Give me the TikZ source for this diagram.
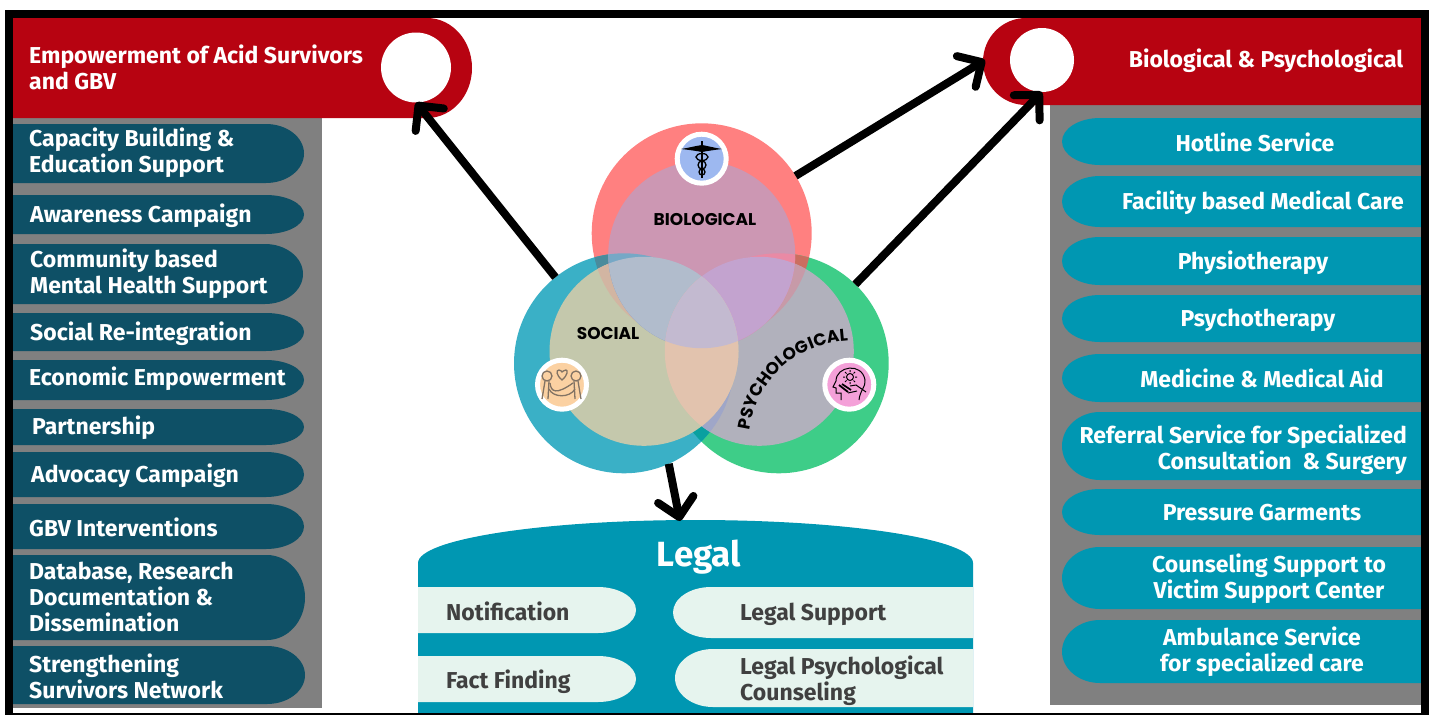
\documentclass[tikz,border=0pt]{standalone}
\usepackage{fontspec}
\setmainfont{Fira Sans}
\newfontfamily\vennfont{Poppins}
\usetikzlibrary{arrows.meta,decorations.text}
\definecolor{bandred}{HTML}{B70311}
\definecolor{paneltone}{HTML}{808080}
\definecolor{darkpill}{HTML}{0E5066}
\definecolor{lightpill}{HTML}{0097B2}
\definecolor{palepill}{HTML}{E6F4EE}
\definecolor{greytext}{HTML}{404040}
\definecolor{ringbio}{HTML}{FF8080}
\definecolor{ringpsy}{HTML}{3ECD88}
\definecolor{ringsoc}{HTML}{3AB0C6}
\definecolor{ringbiosoc}{HTML}{4A8B9C}
\definecolor{ringbiopsy}{HTML}{CB6E60}
\definecolor{ringsocpsy}{HTML}{0AA0A0}
\definecolor{inpsy}{HTML}{B1B1BC}
\definecolor{inpsysoc}{HTML}{9FA6C8}
\definecolor{inpsybio}{HTML}{C79AA8}
\definecolor{insoc}{HTML}{C4C8AC}
\definecolor{insocbio}{HTML}{D2B5A2}
\definecolor{inbio}{HTML}{CC97B3}
\definecolor{inbiopsy}{HTML}{E98AA5}
\definecolor{inbiosoc}{HTML}{76A8C6}
\definecolor{midbiosoc}{HTML}{B1BCCC}
\definecolor{midbiopsy}{HTML}{C3A3CF}
\definecolor{midsocpsy}{HTML}{E2C3AE}
\definecolor{midall}{HTML}{C3BAD0}
\definecolor{badgebio}{HTML}{9DB8F0}
\definecolor{badgesoc}{HTML}{FBD1A2}
\definecolor{badgepsy}{HTML}{F4A0D8}
\definecolor{peopleline}{HTML}{827364}
\tikzset{
  bodytext/.style={text=white,inner sep=0pt,font=\fontsize{23}{25.8}\selectfont\bfseries},
  lefttext/.style={bodytext,anchor=west,align=left},
  righttext/.style={bodytext,align=center},
  legaltext/.style={bodytext,text=greytext,anchor=west,align=left},
  venntext/.style={inner sep=0pt,font=\fontsize{17}{20}\selectfont\vennfont\bfseries},
  ring/.style={circle,inner sep=0pt,outer sep=0pt,minimum size=220},
  hole/.style={circle,fill=white,inner sep=0pt,outer sep=0pt},
  badge/.style={circle,draw=white,line width=5,inner sep=0pt,minimum size=49},
  mainarrow/.style={line width=8,-{Straight Barb[length=18pt,width=36pt,round]}},
}
% x, top, bottom of a pill
\newcommand{\leftpill}[4][darkpill]{\fill[#1] (#4-38,#2) arc[start angle=-90,end angle=90,x radius=38,y radius={(#3-#2)/2}] -- (13,#3) -- (13,#2) -- cycle;}
\newcommand{\rightpill}[4][lightpill]{\fill[#1] (#4+38,#2) arc[start angle=-90,end angle=-270,x radius=38,y radius={(#3-#2)/2}] -- (1421,#3) -- (1421,#2) -- cycle;}
\newcommand{\overlap}[3]{\begin{scope}\clip #1;\fill[#3] #2;\end{scope}}
\newcommand{\bioring}{(701.7,233.3) circle (110)}
\newcommand{\socring}{(624,363.3) circle (110)}
\newcommand{\psyring}{(778.7,363.3) circle (110)}
\newcommand{\bioin}{(701.7,254.7) circle (93.5)}
\newcommand{\socin}{(644,351.3) circle (94.5)}
\newcommand{\psyin}{(759.3,351.3) circle (94.5)}
\begin{document}
\begin{tikzpicture}[x=1pt,y=-1pt]
  \useasboundingbox (0,0) rectangle (1434,715);
  \fill[white] (0,0) rectangle (1434,715);

  % panels behind the pills
  \fill[paneltone] (13,118) rectangle (322,708);
  \fill[paneltone] (1050,105) rectangle (1421,705);

  % red bands
  \fill[bandred] (13,18) -- (427,18) arc[start angle=-90,end angle=90,x radius=45,y radius=50] -- (13,118) -- cycle;
  \node[hole,minimum size=70] (lefthole) at (416,67.5) {};
  \fill[bandred] (1026,18) arc[start angle=-90,end angle=-270,x radius=43,y radius=43.5] -- (1421,105) -- (1421,18) -- cycle;
  \node[hole,minimum size=64] (righthole) at (1042,60) {};
  \coordinate (rightband) at (985,60);
  \node[lefttext] (empowerment) at (29,67.5) {Empowerment of Acid Survivors\\and GBV};
  \node[righttext] (biopsy) at (1266,61) {Biological \& Psychological};

  % left column
  \leftpill{124}{183}{304}
  \node[lefttext] (capacity) at (29,153) {Capacity Building \&\\Education Support};
  \leftpill{195}{234}{304}
  \node[lefttext] (awareness) at (30,216) {Awareness Campaign};
  \leftpill{244}{304}{303}
  \node[lefttext] (community) at (30,274) {Community based\\Mental Health Support};
  \leftpill{313}{351}{304}
  \node[lefttext] (reintegration) at (30,334) {Social Re-integration};
  \leftpill{360}{400}{304}
  \node[lefttext] (economic) at (29,379) {Economic Empowerment};
  \leftpill{409}{445}{304}
  \node[lefttext] (partnership) at (32,428) {Partnership};
  \leftpill{452}{497}{304}
  \node[lefttext] (advocacy) at (31,476) {Advocacy Campaign};
  \leftpill{504}{549}{304}
  \node[lefttext] (gbv) at (29,527) {GBV Interventions};
  \leftpill{555}{640}{305}
  \node[lefttext] (database) at (29,597) {Database, Research\\Documentation \&\\Dissemination};
  \leftpill{646}{704}{305}
  \node[lefttext] (network) at (29,676.5) {Strengthening\\Survivors Network};

  % right column
  \rightpill{118}{165}{1062}
  \node[righttext] (hotline) at (1255,142) {Hotline Service};
  \rightpill{176}{227}{1062}
  \node[righttext] (facility) at (1263,203) {Facility based Medical Care};
  \rightpill{237}{285}{1062}
  \node[righttext] (physio) at (1253,263) {Physiotherapy};
  \rightpill{295}{342}{1062}
  \node[righttext] (psycho) at (1258,320) {Psychotherapy};
  \rightpill{354}{402}{1062}
  \node[righttext] (medicine) at (1262,378) {Medicine \& Medical Aid};
  \rightpill{412}{480}{1062}
  \node[righttext,anchor=east,align=right] (referral) at (1407,450) {Referral Service for Specialized\\Consultation\ \ \& Surgery};
  \rightpill{489}{535}{1062}
  \node[righttext] (garments) at (1262,513) {Pressure Garments};
  \rightpill{547}{609}{1062}
  \node[righttext] (counseling) at (1269,579) {Counseling Support to\\Victim Support Center};
  \rightpill{620}{683}{1062}
  \node[righttext] (ambulance) at (1262,652) {Ambulance Service\\for specialized care};

  % legal block
  \fill[lightpill] (418,563) arc[start angle=180,end angle=360,x radius=277.5,y radius=43] -- (973,713) -- (418,713) -- cycle;
  \coordinate (legaltop) at (680,521);
  \node[bodytext,font=\fontsize{35}{40}\selectfont\bfseries] (legal) at (699,557) {Legal};
  \fill[palepill] (598,587) arc[start angle=-90,end angle=90,x radius=38,y radius=23] -- (418,633) -- (418,587) -- cycle;
  \fill[palepill] (598,656) arc[start angle=-90,end angle=90,x radius=38,y radius=23] -- (418,702) -- (418,656) -- cycle;
  \fill[palepill] (711,587) arc[start angle=-90,end angle=-270,x radius=38,y radius=25.5] -- (973,638) -- (973,587) -- cycle;
  \fill[palepill] (713,649) arc[start angle=-90,end angle=-270,x radius=38,y radius=29] -- (973,707) -- (973,649) -- cycle;
  \node[legaltext] (notification) at (446,611) {Notification};
  \node[legaltext] (factfinding) at (446,682) {Fact Finding};
  \node[legaltext] (legalsupport) at (740,614) {Legal Support};
  \node[legaltext] (legalcounsel) at (740,681) {Legal Psychological\\Counseling};

  % venn
  \node[ring,fill=ringbio] (bioringn) at (701.7,233.3) {};
  \node[ring,fill=ringpsy] (psyringn) at (778.7,363.3) {};
  \node[ring,fill=ringsoc] (socringn) at (624,363.3) {};
  \overlap{\bioring}{\socring}{ringbiosoc}
  \overlap{\bioring}{\psyring}{ringbiopsy}
  \overlap{\socring}{\psyring}{ringsocpsy}
  \fill[inpsy] \psyin;
  \overlap{\psyin}{\socring}{inpsysoc}
  \overlap{\psyin}{\bioring}{inpsybio}
  \fill[insoc] \socin;
  \overlap{\socin}{\bioring}{insocbio}
  \fill[inbio] \bioin;
  \overlap{\bioin}{\psyring}{inbiopsy}
  \overlap{\bioin}{\socring}{inbiosoc}
  \overlap{\bioin}{\socin}{midbiosoc}
  \overlap{\bioin}{\psyin}{midbiopsy}
  \overlap{\socin}{\psyin}{midsocpsy}
  \begin{scope}
    \clip \bioin; \clip \socin;
    \fill[midall] \psyin;
  \end{scope}
  \node[venntext] (biological) at (705,220) {BIOLOGICAL};
  \node[venntext] (social) at (608,334) {SOCIAL};
  \path[decorate,decoration={text along path,text align=center,
    text={|\fontsize{17}{20}\selectfont\vennfont\bfseries|PSYCHOLOGICAL}}]
    (750,428) .. controls (758,380) and (795,345) .. (846,341);

  % badges
  \node[badge,fill=badgebio] (biobadge) at (701.7,158.7) {};
  \node[badge,fill=badgesoc] (socbadge) at (562,384.7) {};
  \node[badge,fill=badgepsy] (psybadge) at (849.3,384.7) {};
  % staff icon
  \draw[line width=1.6] (702,141) -- (702,178);
  \fill (702,145) .. controls (695,146) and (688,148) .. (681,149) .. controls (690,150) and (697,151) .. (702,152)
    .. controls (707,151) and (714,150) .. (722,149) .. controls (715,148) and (708,146) .. (702,145) -- cycle;
  \draw[line width=1.3] (702,157) ellipse (6 and 3.5) (702,165) ellipse (4 and 4) (702,172) ellipse (3 and 3);
  % people icon
  \begin{scope}[draw=peopleline,line width=1.3]
    \draw (547,376) circle (5) (576,376) circle (5);
    \draw (562,380) .. controls (556,375) and (556,370) .. (559,370) .. controls (561,370) and (562,372) .. (562,372)
      .. controls (562,372) and (564,370) .. (566,370) .. controls (568,370) and (568,375) .. (562,380) -- cycle;
    \draw (545,381) -- (542,399) (549,381) -- (548,399);
    \draw (578,381) -- (581,399) (574,381) -- (575,399);
    \draw (550,383) .. controls (551,392) and (556,395) .. (573,383);
    \draw (549,389) .. controls (553,398) and (570,398) .. (575,389);
  \end{scope}
  % head icon
  \begin{scope}[line width=1]
    \draw (841,400) -- (841,393) -- (836,393) -- (836,388) -- (833,387) -- (836,381)
      .. controls (836,366) and (862,362) .. (865,380) .. controls (866,387) and (860,390) .. (859,400);
    \draw (850,377) circle (3.5);
    \draw (850,370) -- (850,372) (850,382) -- (850,384) (843,377) -- (845,377) (855,377) -- (857,377)
      (845,372) -- (846.5,373.5) (853.5,380.5) -- (855,382) (855,372) -- (853.5,373.5) (846.5,380.5) -- (845,382);
    \draw[line width=1.8] (839,385) -- (848,392) (842,384) -- (851,390);
    \draw (848,393) -- (857,391) (850,386) -- (856,385) -- (866,392);
  \end{scope}

  % connectors
  \draw[mainarrow] (socringn) -- (lefthole.south);
  \draw[mainarrow] (bioringn) -- (rightband);
  \draw[mainarrow] (psyringn) -- (righthole.south);
  \draw[mainarrow] (socringn.-66) -- (legaltop);

  % frame
  \fill (5,10) rectangle (1429,18);
  \fill (5,10) rectangle (13,715);
  \fill (1421,10) rectangle (1429,715);
  \fill (13,713) rectangle (1421,715);
\end{tikzpicture}
\end{document}
